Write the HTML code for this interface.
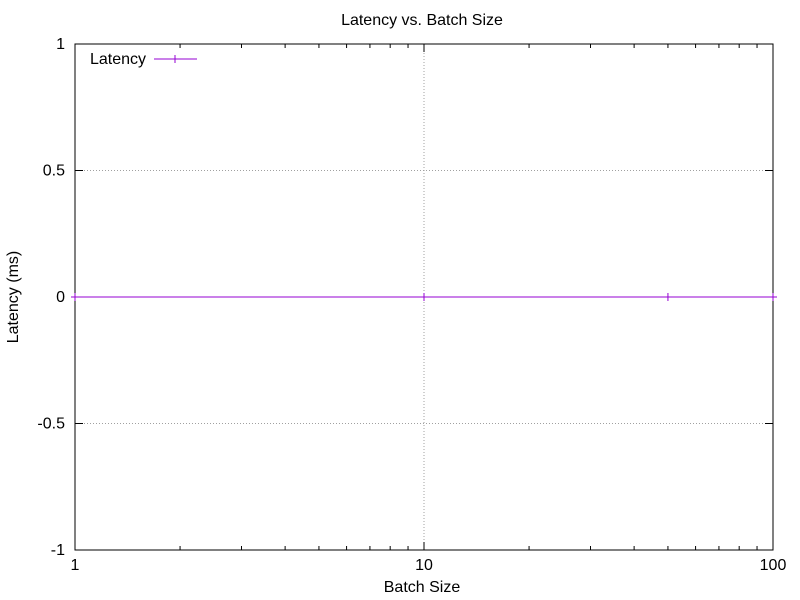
<!DOCTYPE html>
<html><head><meta charset="utf-8"><style>body{margin:0;background:#fff}svg{display:block;font-family:"Liberation Sans",sans-serif}</style></head>
<body>
<svg id="c" width="800" height="600"></svg>
<script>
const xValues=[1,10,50,100];
const latency=[0,0,0,0];
const xTicks=[1,10,100];
const yTicks=[-1,-0.5,0,0.5,1];
const L=75,R=773,T=44,B=550;
const sx=v=>L+(Math.log10(v)-0)/2*(R-L);
const sy=v=>B-(v+1)/2*(B-T);
const svg=document.getElementById('c');const NS='http://www.w3.org/2000/svg';
function el(t,a,txt){const e=document.createElementNS(NS,t);for(const k in a)e.setAttribute(k,a[k]);if(txt!==undefined)e.textContent=txt;svg.appendChild(e);return e;}
let e;
for(const v of yTicks){const y=sy(v);
 if(v>-1&&v<1){e=el('line',{x1:L,x2:R,y1:y,y2:y,stroke:'#a0a0a0','stroke-dasharray':'1,2','stroke-width':1});
 }
 el('line',{x1:L,x2:L+8,y1:y,y2:y,stroke:'#000'});el('line',{x1:R,x2:R-8,y1:y,y2:y,stroke:'#000'});
 e=el('text',{x:L-10,y:y+5,'text-anchor':'end','font-size':16},String(v));
 }
for(const v of xTicks){const x=sx(v);
 if(v>1&&v<100){e=el('line',{x1:x,x2:x,y1:T,y2:B,stroke:'#a0a0a0','stroke-dasharray':'1,2'});
 }
 el('line',{x1:x,x2:x,y1:B,y2:B-8,stroke:'#000'});el('line',{x1:x,x2:x,y1:T,y2:T+8,stroke:'#000'});
 e=el('text',{x:x,y:B+20,'text-anchor':'middle','font-size':16},String(v));
 }
for(let d=1;d<100;d*=10)for(let m=2;m<10;m++){const x=sx(d*m);
 el('line',{x1:x,x2:x,y1:B,y2:B-4,stroke:'#000'});el('line',{x1:x,x2:x,y1:T,y2:T+4,stroke:'#000'});}
e=el('rect',{x:L,y:T,width:R-L,height:B-T,fill:'none',stroke:'#000'});

const pts=xValues.map((x,i)=>sx(x)+','+sy(latency[i])).join(' ');
e=el('polyline',{points:pts,fill:'none',stroke:'#9400d3','stroke-width':1});

xValues.forEach((x,i)=>{const px=sx(x),py=sy(latency[i]);
 e=el('path',{d:`M${px-4},${py}H${px+4}M${px},${py-4}V${py+4}`,stroke:'#9400d3'});
 });
e=el('text',{x:422,y:25,'text-anchor':'middle','font-size':16},'Latency vs. Batch Size');

e=el('text',{x:422,y:592,'text-anchor':'middle','font-size':16},'Batch Size');

e=el('text',{x:18,y:297,'text-anchor':'middle','font-size':16,transform:'rotate(-90 18 297)'},'Latency (ms)');

e=el('text',{x:90,y:64,'font-size':16},'Latency');

e=el('path',{d:'M154,59H197M175,55V63',stroke:'#9400d3'});

</script>
</body></html>
